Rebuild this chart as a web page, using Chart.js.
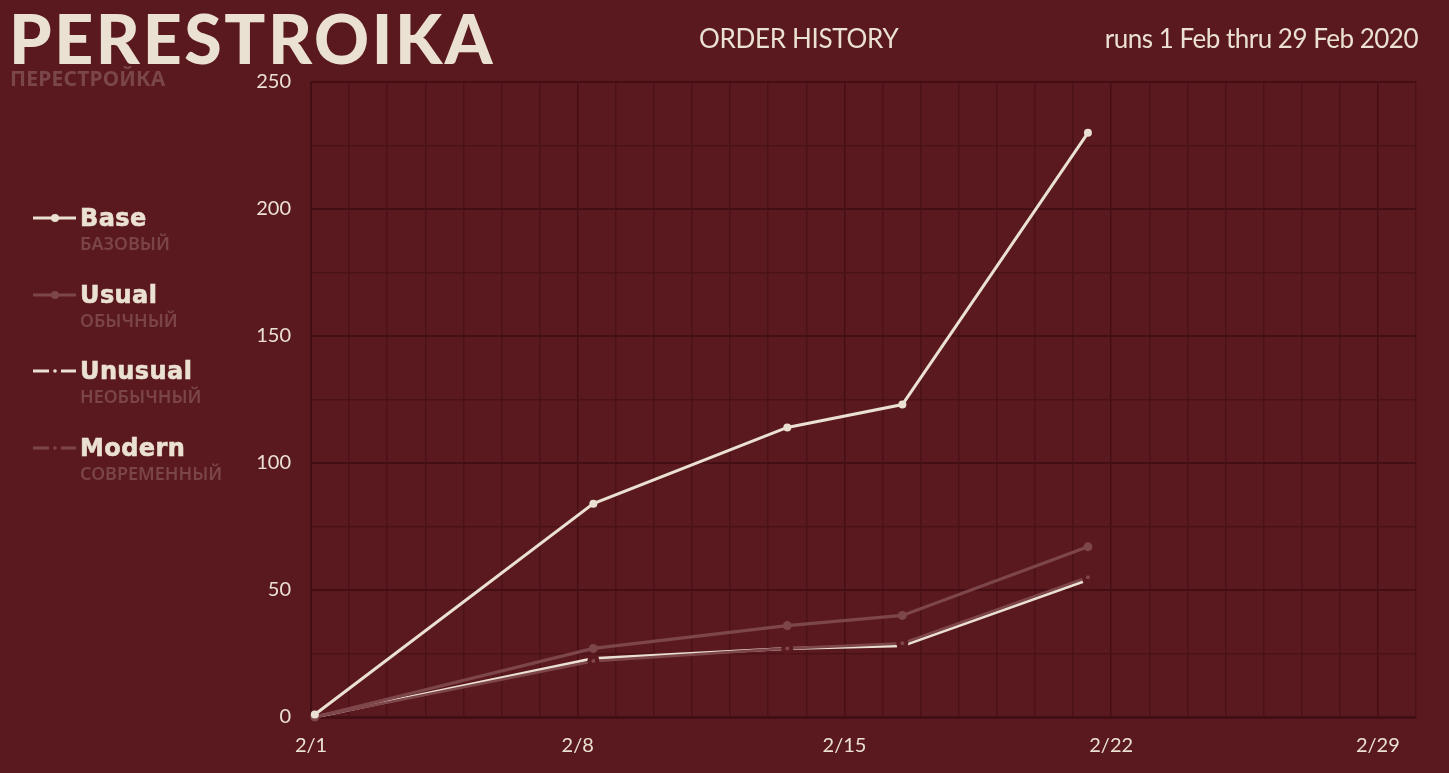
<!DOCTYPE html>
<html>
<head>
<meta charset="utf-8">
<script src="https://cdn.jsdelivr.net/npm/chart.js@4.4.1/dist/chart.umd.min.js"></script>
<style>
  html, body { margin: 0; padding: 0; background: #5a191f; width: 1449px; height: 773px; overflow: hidden; }
  #chartBox { position: absolute; left: 0; top: 0; width: 1449px; height: 773px; }
  .logo { position: absolute; left: 9px; top: 4px; font-family: Lato, sans-serif; font-weight: 900; font-size: 68px;
          line-height: 1; color: #ebe1d2; letter-spacing: 2.6px; }
  .logo-ru { position: absolute; left: 10px; top: 68px; font-family: "Noto Sans", sans-serif; font-weight: 700; font-size: 21px;
             line-height: 1; color: #7a464a; letter-spacing: 0.2px; }
  .title { position: absolute; top: 25px; font-family: Lato, sans-serif; font-size: 26px; line-height: 1; color: #ebe1d2; }
  .legend { position: absolute; left: 0; top: 0; }
  .lg-item { position: absolute; left: 33px; }
  .lg-item svg { position: absolute; left: 0; top: 0; }
  .lg-name { position: absolute; left: 47px; top: -12px; font-family: "DejaVu Sans", sans-serif; font-weight: 700;
             font-size: 24px; line-height: 1; color: #ebe1d2; white-space: nowrap; letter-spacing: 0.4px;
             -webkit-text-stroke: 0.6px #ebe1d2; }
  .lg-ru { position: absolute; left: 47px; top: 16px; font-family: "Noto Sans", sans-serif; font-weight: 600;
           font-size: 18px; line-height: 1; color: #7a4448; white-space: nowrap; }
</style>
</head>
<body>
<div id="chartBox"><canvas id="orders"></canvas></div>
<div class="logo">PERESTROIKA</div>
<div class="logo-ru">ПЕРЕСТРОЙКА</div>
<div class="title" style="left:699px; letter-spacing:-0.3px;">ORDER HISTORY</div>
<div class="title" style="right:31px; letter-spacing:-0.5px;">runs 1 Feb thru 29 Feb 2020</div>
<div class="legend" id="legend"></div>
<script>
// days since 1 Feb for each reading
const dayOffsets = [0.1, 7.41, 12.5, 15.52, 20.39];

const baseOrders = [1, 84, 114, 123, 230];
const usualOrders = [0, 27, 36, 40, 67];
const unusualOrders = [0, 23, 27, 28, 54];
const modernOrders = [0, 22, 27, 29, 55];

const seriesNames = ['Base', 'Usual', 'Unusual', 'Modern'];
const seriesNamesRu = ['БАЗОВЫЙ', 'ОБЫЧНЫЙ', 'НЕОБЫЧНЫЙ', 'СОВРЕМЕННЫЙ'];

const xTickDays = [0, 7, 14, 21, 28];
const xTickLabels = ['2/1', '2/8', '2/15', '2/22', '2/29'];
const yTickValues = [0, 50, 100, 150, 200, 250];

const BG = '#5a191f';
const CREAM = '#ebe1d2';
const ROSE = '#7d464b';
const GRID = '#4a1218';
const GRID_MAJOR = '#440f14';

function toPoints(values) {
  return values.map((v, i) => ({ x: dayOffsets[i], y: v }));
}

// line colour / style per series, also used for the legend samples
const seriesStyle = [
  { color: CREAM, width: 3, radius: 4, ring: 0, gap: false },
  { color: ROSE, width: 3.2, radius: 4.5, ring: 0, gap: false },
  { color: CREAM, width: 3, radius: 3.5, ring: 4, gap: true },
  { color: ROSE, width: 2.8, radius: 4, ring: 4, gap: true },
];
const seriesValues = [baseOrders, usualOrders, unusualOrders, modernOrders];
const drawOrder = [0, 1, 3, 2];

const datasets = seriesNames.map((name, i) => {
  const st = seriesStyle[i];
  return {
    label: name,
    data: toPoints(seriesValues[i]),
    order: drawOrder[i],
    borderColor: st.color,
    borderWidth: st.width,
    pointRadius: st.radius,
    pointHoverRadius: st.radius,
    pointBackgroundColor: st.color,
    pointBorderColor: st.ring ? BG : st.color,
    pointBorderWidth: st.ring || 0,
    tension: 0,
    clip: false,
  };
});

const chartOptions = {
  responsive: true,
  maintainAspectRatio: false,
  animation: false,
  layout: {
    padding: { left: 240, top: 82, right: 33, bottom: 0 }
  },
  plugins: {
    legend: { display: false },
    tooltip: { enabled: false },
  },
  scales: {
    x: {
      type: 'linear',
      min: 0,
      max: 29,
      afterFit: (scale) => { scale.height = 56; },
      border: { display: true, color: GRID_MAJOR, width: 3 },
      grid: {
        drawTicks: false,
        color: (ctx) => (ctx.tick && ctx.tick.value % 7 === 0 ? GRID_MAJOR : GRID),
        lineWidth: 1.5,
      },
      ticks: {
        stepSize: 1,
        autoSkip: false,
        maxRotation: 0,
        padding: 17,
        color: CREAM,
        font: { family: 'Lato', size: 20 },
        callback: (v) => {
          const k = xTickDays.indexOf(v);
          return k >= 0 ? xTickLabels[k] : '';
        },
      },
    },
    y: {
      min: 0,
      max: 250,
      afterFit: (scale) => { scale.width = 71; },
      border: { display: true, color: GRID_MAJOR, width: 2 },
      grid: {
        drawTicks: false,
        color: (ctx) => (ctx.tick && ctx.tick.value % 50 === 0 ? GRID_MAJOR : GRID),
        lineWidth: (ctx) => (ctx.tick && ctx.tick.value % 50 === 0 ? 2 : 1.5),
      },
      ticks: {
        stepSize: 25,
        padding: 20,
        color: CREAM,
        font: { family: 'Lato', size: 20 },
        callback: (v) => (yTickValues.includes(v) ? String(v) : ''),
      },
    },
  },
};

function buildLegend() {
  const legend = document.getElementById('legend');
  const rowY = [218, 294.5, 371, 448];
  seriesNames.forEach((name, i) => {
    const st = seriesStyle[i];
    const item = document.createElement('div');
    item.className = 'lg-item';
    item.style.top = rowY[i] + 'px';
    let svg = '<svg width="46" height="12" style="top:-6px">';
    if (st.gap) {
      svg += `<line x1="0" y1="6" x2="16" y2="6" stroke="${st.color}" stroke-width="3"/>`;
      svg += `<line x1="28" y1="6" x2="43" y2="6" stroke="${st.color}" stroke-width="3"/>`;
      svg += `<circle cx="22" cy="6" r="1.8" fill="${st.color}"/>`;
    } else {
      svg += `<line x1="0" y1="6" x2="43" y2="6" stroke="${st.color}" stroke-width="3"/>`;
      svg += `<circle cx="22" cy="6" r="4" fill="${st.color}"/>`;
    }
    svg += '</svg>';
    item.innerHTML = svg +
      `<div class="lg-name">${name}</div><div class="lg-ru">${seriesNamesRu[i]}</div>`;
    legend.appendChild(item);
  });
}

function makeChart(canvas, type, data, options) {
  const ctx = canvas.getContext('2d');
  return new Chart(ctx, { type: type, data: data, options: options });
}

buildLegend();
makeChart(document.getElementById('orders'), 'line', { datasets: datasets }, chartOptions);
</script>
</body>
</html>
